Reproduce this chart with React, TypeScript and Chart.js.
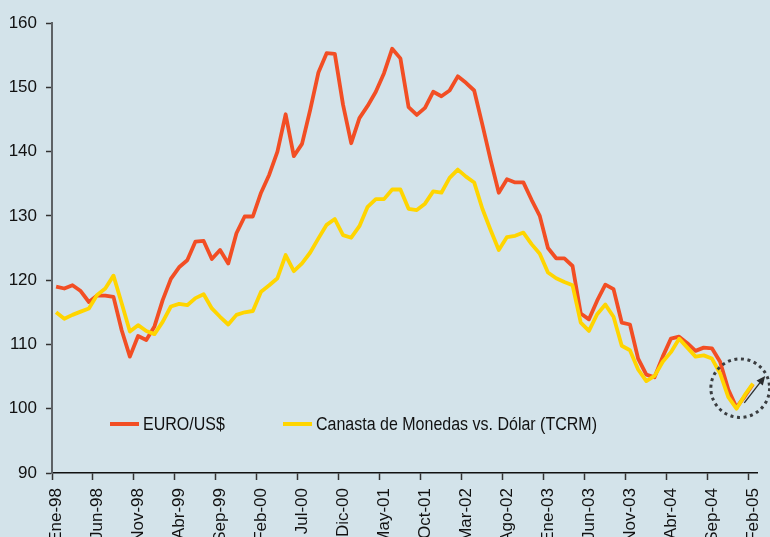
import React, { useEffect, useRef } from 'react';
import { Chart, registerables } from 'chart.js';

Chart.register(...registerables);

const MONTH_NAMES = ['Ene', 'Feb', 'Mar', 'Abr', 'May', 'Jun', 'Jul', 'Ago', 'Sep', 'Oct', 'Nov', 'Dic'];
const YEARS = ['98', '99', '00', '01', '02', '03', '04', '05'];

const categories: string[] = [];
YEARS.forEach((y, yi) => {
  MONTH_NAMES.forEach((m, mi) => {
    if (yi === YEARS.length - 1 && mi > 1) return;
    categories.push(`${m}-${y}`);
  });
});

const euroUsd = [
  119.0, 118.7, 119.2, 118.3, 116.6, 117.6, 117.6, 117.4, 112.2, 108.1,
  111.3, 110.7, 112.8, 116.9, 120.2, 122.0, 123.1, 126.0, 126.1, 123.3,
  124.7, 122.6, 127.3, 129.9, 129.9, 133.6, 136.4, 140.0, 145.8, 139.3,
  141.2, 146.5, 152.3, 155.3, 155.2, 147.3, 141.3, 145.2, 147.1, 149.3,
  152.2, 156.0, 154.5, 146.9, 145.7, 146.8, 149.3, 148.6, 149.5, 151.7,
  150.7, 149.5, 144.2, 138.7, 133.6, 135.7, 135.2, 135.2, 132.5, 130.0,
  125.0, 123.4, 123.4, 122.2, 114.8, 113.9, 116.8, 119.3, 118.6, 113.4,
  113.1, 107.8, 105.3, 104.9, 108.1, 110.9, 111.2, 110.2, 109.0, 109.5,
  109.4, 107.3, 103.0, 100.2, 101.9, 103.8,
];

const canasta = [
  115.0, 114.0, 114.6, 115.1, 115.6, 117.7, 118.7, 120.7, 116.4, 112.0,
  113.0, 112.1, 111.6, 113.5, 115.9, 116.3, 116.1, 117.2, 117.8, 115.6,
  114.3, 113.1, 114.6, 115.0, 115.2, 118.2, 119.2, 120.3, 123.9, 121.4,
  122.6, 124.3, 126.5, 128.6, 129.5, 127.0, 126.6, 128.4, 131.4, 132.6,
  132.6, 134.1, 134.1, 131.1, 130.9, 131.9, 133.8, 133.6, 135.9, 137.2,
  136.1, 135.2, 131.1, 127.8, 124.7, 126.7, 126.9, 127.4, 125.6, 124.1,
  121.2, 120.3, 119.7, 119.2, 113.4, 112.1, 114.7, 116.2, 114.3, 109.8,
  109.1, 106.1, 104.3, 105.1, 107.3, 108.8, 110.9, 109.5, 108.1, 108.3,
  107.8, 105.5, 101.8, 100.0, 102.1, 103.9,
];

const seriesNames = ['EURO/US$', 'Canasta de Monedas vs. Dólar (TCRM)'];

// annotation (dotted ellipse + arrow) in data units
const ellipseCenter = { x: 83.45, y: 103.2 };
const ellipseRadius = { x: 3.58, y: 4.55 };
const arrowFrom = { x: 83.95, y: 100.9 };
const arrowTo = { x: 86.5, y: 105.1 };

const RED = '#f24e24';
const YELLOW = '#ffd500';
const BG = '#d3e3ea';
const FONT_FAMILY = "'Liberation Sans', Arial, Helvetica, sans-serif";
const TEXT_STRETCH = 1.18;

const bgPlugin = {
  id: 'bgFill',
  beforeDraw(chart: any) {
    const { ctx, width, height } = chart;
    ctx.save();
    ctx.fillStyle = BG;
    ctx.fillRect(0, 0, width, height);
    ctx.restore();
  },
};

const legendPlugin = {
  id: 'customLegend',
  afterDraw(chart: any) {
    const { ctx } = chart;
    const ds = chart.data.datasets;
    const y = 424;
    const items = [
      { x: 110, idx: 0 },
      { x: 283, idx: 1 },
    ];
    ctx.save();
    items.forEach((it) => {
      const d = ds[it.idx];
      ctx.strokeStyle = d.borderColor;
      ctx.lineWidth = 4;
      ctx.lineCap = 'butt';
      ctx.beginPath();
      ctx.moveTo(it.x, y);
      ctx.lineTo(it.x + 29, y);
      ctx.stroke();
      ctx.save();
      ctx.translate(it.x + 33, y + 1);
      ctx.scale(1, TEXT_STRETCH);
      ctx.font = `16px ${FONT_FAMILY}`;
      ctx.textBaseline = 'middle';
      ctx.textAlign = 'left';
      ctx.fillStyle = '#111';
      ctx.fillText(d.label, 0, 0);
      ctx.restore();
    });
    ctx.restore();
  },
};

const annotationPlugin = {
  id: 'ellipseArrow',
  afterDatasetsDraw(chart: any) {
    const { ctx } = chart;
    const xs = chart.scales.x;
    const ys = chart.scales.y;
    const cx = xs.getPixelForValue(ellipseCenter.x);
    const cy = ys.getPixelForValue(ellipseCenter.y);
    const rx = Math.abs(xs.getPixelForValue(ellipseCenter.x + ellipseRadius.x) - cx);
    const ry = Math.abs(ys.getPixelForValue(ellipseCenter.y + ellipseRadius.y) - cy);
    ctx.save();
    ctx.strokeStyle = '#3a3d40';
    ctx.lineWidth = 3;
    ctx.setLineDash([3, 3.6]);
    ctx.beginPath();
    ctx.ellipse(cx, cy, rx, ry, 0, 0, Math.PI * 2);
    ctx.stroke();
    ctx.setLineDash([]);

    const x1 = xs.getPixelForValue(arrowFrom.x);
    const y1 = ys.getPixelForValue(arrowFrom.y);
    const x2 = xs.getPixelForValue(arrowTo.x);
    const y2 = ys.getPixelForValue(arrowTo.y);
    const ang = Math.atan2(y2 - y1, x2 - x1);
    const headLen = 9;
    const headW = 4;
    ctx.strokeStyle = '#2a2c2e';
    ctx.lineWidth = 1.3;
    ctx.beginPath();
    ctx.moveTo(x1, y1);
    ctx.lineTo(x2 - Math.cos(ang) * headLen * 0.8, y2 - Math.sin(ang) * headLen * 0.8);
    ctx.stroke();
    ctx.fillStyle = '#2a2c2e';
    ctx.beginPath();
    ctx.moveTo(x2, y2);
    ctx.lineTo(
      x2 - Math.cos(ang) * headLen - Math.sin(ang) * headW,
      y2 - Math.sin(ang) * headLen + Math.cos(ang) * headW
    );
    ctx.lineTo(
      x2 - Math.cos(ang) * headLen + Math.sin(ang) * headW,
      y2 - Math.sin(ang) * headLen - Math.cos(ang) * headW
    );
    ctx.closePath();
    ctx.fill();
    ctx.restore();
  },
};

export default function App() {
  const canvasRef = useRef<HTMLCanvasElement | null>(null);

  useEffect(() => {
    document.body.style.margin = '0';
    document.body.style.background = BG;
    const canvas = canvasRef.current;
    if (!canvas) return;
    const font = { family: FONT_FAMILY, size: 17 };
    const chart = new Chart(canvas, {
      type: 'line',
      data: {
        labels: categories,
        datasets: [
          {
            label: seriesNames[0],
            data: euroUsd,
            borderColor: RED,
            backgroundColor: RED,
            borderWidth: 3.8,
            pointRadius: 0,
            tension: 0,
            borderJoinStyle: 'round',
            order: 1,
          },
          {
            label: seriesNames[1],
            data: canasta,
            borderColor: YELLOW,
            backgroundColor: YELLOW,
            borderWidth: 3.8,
            pointRadius: 0,
            tension: 0,
            borderJoinStyle: 'round',
            order: 0,
          },
        ],
      },
      options: {
        responsive: false,
        animation: false,
        events: [],
        layout: { padding: { top: 23, right: 13, left: 0, bottom: 0 } },
        plugins: {
          legend: { display: false },
          tooltip: { enabled: false },
          title: { display: false },
        },
        scales: {
          x: {
            type: 'category',
            offset: true,
            grid: {
              offset: true,
              drawOnChartArea: false,
              drawTicks: true,
              tickLength: 7,
              tickWidth: 1.5,
              tickColor: (c: any) => (c.index % 5 === 0 ? '#333' : 'rgba(0,0,0,0)'),
            },
            border: { display: true, color: '#111', width: 1.5 },
            ticks: {
              autoSkip: false,
              maxRotation: 90,
              minRotation: 90,
              padding: 8,
              color: '#111',
              font,
              callback: (_v: any, i: number) => (i % 5 === 0 ? categories[i] : ''),
            },
            afterFit: (s: any) => {
              s.height = 64;
              s.paddingLeft = 0;
              s.paddingRight = 0;
            },
          },
          y: {
            min: 90,
            max: 160,
            grid: {
              drawOnChartArea: false,
              drawTicks: true,
              tickLength: 6,
              tickWidth: 1.5,
              tickColor: '#333',
            },
            border: { display: true, color: '#5d6266', width: 2 },
            ticks: {
              stepSize: 10,
              padding: 9,
              color: '#111',
              font,
            },
            afterFit: (s: any) => {
              s.width = 52;
              s.paddingTop = 0;
              s.paddingBottom = 0;
            },
          },
        },
      },
      plugins: [bgPlugin, annotationPlugin, legendPlugin],
    });
    return () => chart.destroy();
  }, []);

  return (
    <div style={{ position: 'fixed', left: 0, top: 0, width: 770, height: 537, background: BG, overflow: 'hidden' }}>
      <canvas ref={canvasRef} width={770} height={537} style={{ display: 'block', width: 770, height: 537 }} />
    </div>
  );
}
